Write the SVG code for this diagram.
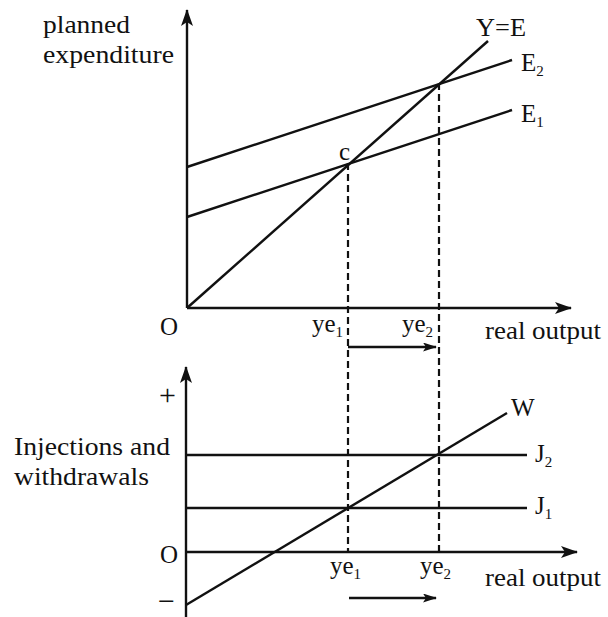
<svg xmlns="http://www.w3.org/2000/svg" width="608" height="617" viewBox="0 0 608 617">
<style>
.ln{stroke:#111;stroke-width:2.4;fill:none}
.ds{stroke:#111;stroke-width:2.2;fill:none;stroke-dasharray:7,4}
.t{font-family:"Liberation Serif","Times New Roman",serif;font-size:25px;fill:#111}
.s{font-size:15px}
</style>
<defs>
<marker id="ah" markerUnits="userSpaceOnUse" markerWidth="18" markerHeight="14" refX="16" refY="6" orient="auto">
<path d="M0,0 L17,6 L0,12 L4,6 z" fill="#111"/>
</marker>
<marker id="ahs" markerUnits="userSpaceOnUse" markerWidth="14" markerHeight="10" refX="13" refY="4.5" orient="auto">
<path d="M0,0 L14,4.5 L0,9 L3,4.5 z" fill="#111"/>
</marker>
</defs>
<rect width="608" height="617" fill="#fff"/>
<g id="axes">
<line class="ln" x1="187" y1="308" x2="187" y2="10" marker-end="url(#ah)"/>
<line class="ln" x1="187" y1="308" x2="571" y2="308" marker-end="url(#ah)"/>
<line class="ln" x1="186" y1="617" x2="186" y2="367" marker-end="url(#ah)"/>
<line class="ln" x1="186" y1="552" x2="577" y2="552" marker-end="url(#ah)"/>
</g>
<g id="connectors">
<line class="ln" x1="187" y1="308" x2="488" y2="41"/>
<line class="ln" x1="187" y1="167" x2="512" y2="60"/>
<line class="ln" x1="187" y1="217" x2="512" y2="110"/>
<line class="ds" x1="348" y1="163" x2="348" y2="552"/>
<line class="ds" x1="439" y1="83" x2="439" y2="552"/>
<line class="ln" x1="348" y1="347" x2="436" y2="347" stroke-width="1.8" marker-end="url(#ahs)"/>
<line class="ln" x1="186" y1="455" x2="527" y2="455"/>
<line class="ln" x1="186" y1="508" x2="527" y2="508"/>
<line class="ln" x1="186" y1="605" x2="507" y2="413"/>
<line class="ln" x1="349" y1="598" x2="436" y2="598" stroke-width="1.8" marker-end="url(#ahs)"/>
</g>
<g id="label-planned-expenditure">
<text class="t" x="43" y="33" textLength="87" lengthAdjust="spacingAndGlyphs">planned</text>
<text class="t" x="43" y="63" textLength="131" lengthAdjust="spacingAndGlyphs">expenditure</text>
</g>
<g id="label-YE"><text class="t" x="476" y="36" textLength="50" lengthAdjust="spacingAndGlyphs">Y=E</text></g>
<g id="label-E2"><text class="t" x="521" y="71">E<tspan class="s" dy="5">2</tspan></text></g>
<g id="label-E1"><text class="t" x="521" y="122">E<tspan class="s" dy="5">1</tspan></text></g>
<g id="label-c"><text class="t" x="339" y="160">c</text></g>
<g id="label-O-top"><text class="t" x="160" y="335">O</text></g>
<g id="label-ye1-top"><text class="t" x="312" y="332">ye<tspan class="s" dy="5">1</tspan></text></g>
<g id="label-ye2-top"><text class="t" x="402" y="332">ye<tspan class="s" dy="5">2</tspan></text></g>
<g id="label-real-output-top"><text class="t" x="485" y="339" textLength="116" lengthAdjust="spacingAndGlyphs">real output</text></g>
<g id="label-plus"><text class="t" x="159" y="405" style="font-size:30px">+</text></g>
<g id="label-injections">
<text class="t" x="14" y="455" textLength="156" lengthAdjust="spacingAndGlyphs">Injections and</text>
<text class="t" x="14" y="485" textLength="135" lengthAdjust="spacingAndGlyphs">withdrawals</text>
</g>
<g id="label-O-bottom"><text class="t" x="160" y="563">O</text></g>
<g id="label-minus"><text class="t" x="158" y="611" style="font-size:30px">−</text></g>
<g id="label-W"><text class="t" x="511" y="416">W</text></g>
<g id="label-J2"><text class="t" x="535" y="462">J<tspan class="s" dy="5">2</tspan></text></g>
<g id="label-J1"><text class="t" x="535" y="514">J<tspan class="s" dy="5">1</tspan></text></g>
<g id="label-ye1-bottom"><text class="t" x="330" y="574">ye<tspan class="s" dy="5">1</tspan></text></g>
<g id="label-ye2-bottom"><text class="t" x="420" y="574">ye<tspan class="s" dy="5">2</tspan></text></g>
<g id="label-real-output-bottom"><text class="t" x="485" y="586" textLength="116" lengthAdjust="spacingAndGlyphs">real output</text></g>
</svg>
